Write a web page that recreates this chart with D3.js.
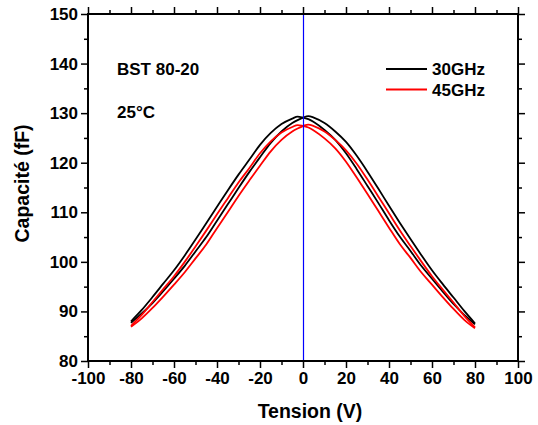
<!DOCTYPE html>
<html><head><meta charset="utf-8">
<script src="https://cdn.jsdelivr.net/npm/d3@7"></script>
<style>
html,body{margin:0;padding:0;background:#fff;}
svg{display:block;font-family:"Liberation Sans",Arial,sans-serif;font-weight:bold;}
</style></head>
<body><svg id="c" width="538" height="425"></svg>
<script>
const voltages = [-80,-75,-70,-65,-60,-55,-50,-45,-40,-35,-30,-25,-20,-15,-10,-5,-2.5,0,2.5,5,10,15,20,25,30,35,40,45,50,55,60,65,70,75,80];
const black30Down = [88.0,90.3,92.9,95.6,98.3,101.3,104.5,107.8,111.1,114.4,117.6,120.6,123.6,126.0,127.8,128.9,129.3,129.1,128.8,128.2,126.6,124.6,121.9,118.7,115.3,111.9,108.4,105.1,102.2,99.2,96.6,94.0,91.5,89.3,87.4];
const black30Up   = [87.7,89.6,91.7,94.1,96.6,99.2,102.1,105.0,108.3,111.6,114.9,118.1,121.1,124.0,126.3,128.0,128.6,129.1,129.4,129.1,128.0,126.3,124.2,121.4,118.2,114.8,111.3,107.9,104.6,101.4,98.3,95.5,92.8,90.1,87.6];
const red45Down   = [87.1,89.3,91.9,94.5,97.1,100.0,103.1,106.3,109.6,112.8,116.0,118.9,121.9,124.3,126.1,127.2,127.6,127.4,127.1,126.5,124.9,122.9,120.2,117.0,113.7,110.3,106.9,103.6,100.8,97.9,95.4,92.9,90.5,88.3,86.6];
const red45Up     = [86.9,88.6,90.7,93.0,95.4,97.9,100.7,103.5,106.8,110.0,113.3,116.4,119.4,122.3,124.6,126.3,126.9,127.4,127.7,127.4,126.3,124.6,122.5,119.8,116.6,113.2,109.8,106.4,103.2,100.1,97.1,94.4,91.8,89.1,86.8];
const xMajorTicks = [-100,-80,-60,-40,-20,0,20,40,60,80,100];
const xMinorTicks = [-90,-70,-50,-30,-10,10,30,50,70,90];
const yMajorTicks = [80,90,100,110,120,130,140,150];
const yMinorTicks = [85,95,105,115,125,135,145];
const seriesNames = ["30GHz","45GHz"];
const seriesColors = ["#000000","#ff0000"];
const xTitle = "Tension (V)";
const yTitle = "Capacité (fF)";
const notes = ["BST 80-20","25°C"];

const svg = d3.select("#c");
const L=88,R=518,T=14,B=361;
const x = d3.scaleLinear().domain([-100,100]).range([L,R]);
const y = d3.scaleLinear().domain([80,150]).range([B,T]);
const fmt = d => String(d);

// curves
const line = d3.line().x(d=>x(d[0])).y(d=>y(d[1])).curve(d3.curveMonotoneX);
const curves = [
  {v:black30Down,c:seriesColors[0]},
  {v:black30Up,c:seriesColors[0]},
  {v:red45Down,c:seriesColors[1]},
  {v:red45Up,c:seriesColors[1]}
];
curves.forEach(s=>{
  svg.append("path").datum(voltages.map((v,i)=>[v,s.v[i]]))
    .attr("d",line).attr("fill","none").attr("stroke",s.c).attr("stroke-width",1.8);
});

// blue zero line (drawn above curves, as in the reference)
svg.append("line").attr("x1",x(0)+0.5).attr("x2",x(0)+0.5).attr("y1",T).attr("y2",B)
  .attr("stroke","#0000ff").attr("stroke-width",1.2);

// axes
function styleAxis(g){
  g.select(".domain").remove();
  g.selectAll(".tick line").attr("stroke","#000").attr("stroke-width",1.5);
  g.selectAll("text").attr("fill","#000").style("font-size","17px").style("font-weight","bold")
   .style("font-family","'Liberation Sans',Arial,sans-serif");
}
const bx = svg.append("g").attr("transform",`translate(0,${B})`)
  .call(d3.axisBottom(x).tickValues(xMajorTicks).tickSize(7).tickPadding(4).tickFormat(fmt));
styleAxis(bx);
const bxm = svg.append("g").attr("transform",`translate(0,${B})`)
  .call(d3.axisBottom(x).tickValues(xMinorTicks).tickSize(4).tickFormat(""));
styleAxis(bxm);
const tx = svg.append("g").attr("transform",`translate(0,${T})`)
  .call(d3.axisTop(x).tickValues(xMajorTicks).tickSize(7).tickFormat(""));
styleAxis(tx);
const txm = svg.append("g").attr("transform",`translate(0,${T})`)
  .call(d3.axisTop(x).tickValues(xMinorTicks).tickSize(4).tickFormat(""));
styleAxis(txm);
const ly = svg.append("g").attr("transform",`translate(${L},0)`)
  .call(d3.axisLeft(y).tickValues(yMajorTicks).tickSize(7).tickPadding(3).tickFormat(fmt));
styleAxis(ly);
const lym = svg.append("g").attr("transform",`translate(${L},0)`)
  .call(d3.axisLeft(y).tickValues(yMinorTicks).tickSize(4).tickFormat(""));
styleAxis(lym);
const ry = svg.append("g").attr("transform",`translate(${R},0)`)
  .call(d3.axisRight(y).tickValues(yMajorTicks).tickSize(7).tickFormat(""));
styleAxis(ry);
const rym = svg.append("g").attr("transform",`translate(${R},0)`)
  .call(d3.axisRight(y).tickValues(yMinorTicks).tickSize(4).tickFormat(""));
styleAxis(rym);

// frame
svg.append("rect").attr("x",L).attr("y",T).attr("width",R-L).attr("height",B-T)
  .attr("fill","none").attr("stroke","#000").attr("stroke-width",2);

// titles
svg.append("text").attr("x",(L+R)/2+7).attr("y",418).attr("text-anchor","middle")
  .style("font-size","19.5px").text(xTitle);
svg.append("text").attr("transform",`translate(29,${(T+B)/2-4}) rotate(-90)`).attr("text-anchor","middle")
  .style("font-size","19.5px").text(yTitle);

// notes
svg.append("text").attr("x",117).attr("y",75).style("font-size","17px").text(notes[0]);
svg.append("text").attr("x",117).attr("y",118).style("font-size","17px").text(notes[1]);

// legend
seriesNames.forEach((n,i)=>{
  const ly0 = 69 + i*20.5;
  svg.append("line").attr("x1",386).attr("x2",427).attr("y1",ly0).attr("y2",ly0)
    .attr("stroke",seriesColors[i]).attr("stroke-width",1.8);
  svg.append("text").attr("x",432).attr("y",ly0+6).style("font-size","17px").text(n);
});
</script></body></html>
